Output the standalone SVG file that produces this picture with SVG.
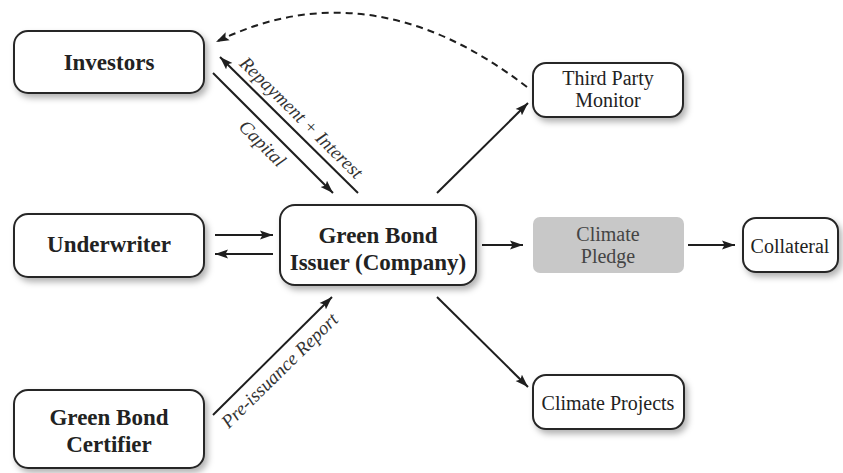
<svg xmlns="http://www.w3.org/2000/svg" width="843" height="473" viewBox="0 0 843 473">
<defs>
<style>
.box{fill:#fff;stroke:#262626;stroke-width:2;filter:url(#sh)}
.pledge{fill:#c8c8c8;stroke:none}
.bt{font-family:"Liberation Serif","Times New Roman",serif;font-weight:bold;font-size:23px;fill:#222;text-anchor:middle}
.rt{font-family:"Liberation Serif","Times New Roman",serif;font-size:20px;fill:#222;text-anchor:middle}
.gt{font-family:"Liberation Serif","Times New Roman",serif;font-size:20px;fill:#444;text-anchor:middle}
.lbl{font-family:"Liberation Serif","Times New Roman",serif;font-style:italic;font-size:19px;fill:#333;text-anchor:middle}
.ln{stroke:#1e1e1e;stroke-width:2;fill:none;marker-end:url(#ah)}
.dash{stroke:#1e1e1e;stroke-width:2;fill:none;stroke-dasharray:7 5;marker-end:url(#ah)}
</style>
<filter id="sh" x="-10%" y="-20%" width="125%" height="150%">
<feDropShadow dx="3" dy="4" stdDeviation="3" flood-color="#000" flood-opacity="0.3"/>
</filter>
<marker id="ah" markerUnits="userSpaceOnUse" markerWidth="14" markerHeight="10" refX="13" refY="5" orient="auto">
<path d="M0,0.5 L13,5 L0,9.5 L2.5,5 Z" fill="#1e1e1e"/>
</marker>
</defs>
<g id="connectors">
<line class="ln" x1="213" y1="73" x2="333" y2="193"/>
<line class="ln" x1="358" y1="193" x2="220" y2="57"/>
<line class="ln" x1="215" y1="235" x2="273" y2="235"/>
<line class="ln" x1="273" y1="254" x2="215" y2="254"/>
<line class="ln" x1="482" y1="245" x2="523" y2="245"/>
<line class="ln" x1="688" y1="245" x2="735" y2="245"/>
<line class="ln" x1="437" y1="193" x2="528" y2="103"/>
<line class="ln" x1="437" y1="297" x2="528" y2="387"/>
<line class="ln" x1="213" y1="415" x2="332" y2="297"/>
<path class="dash" d="M527,87 Q370,-34 216,42"/>
<text class="lbl" transform="translate(297,122) rotate(44.6)">Repayment + Interest</text>
<text class="lbl" transform="translate(258,148) rotate(45)">Capital</text>
<text class="lbl" transform="translate(284,375) rotate(-44.5)">Pre-issuance Report</text>
</g>
<g id="investors">
<rect class="box" x="14" y="31" width="190" height="62" rx="14"/>
<text class="bt" x="109" y="70">Investors</text>
</g>
<g id="underwriter">
<rect class="box" x="14" y="214" width="190" height="63" rx="14"/>
<text class="bt" x="109" y="252">Underwriter</text>
</g>
<g id="certifier">
<rect class="box" x="14" y="390" width="190" height="78" rx="14"/>
<text class="bt" x="109" y="425">Green Bond</text>
<text class="bt" x="109" y="452">Certifier</text>
</g>
<g id="issuer">
<rect class="box" x="280" y="205" width="196" height="80" rx="15"/>
<text class="bt" x="378" y="243">Green Bond</text>
<text class="bt" x="378" y="270">Issuer (Company)</text>
</g>
<g id="monitor">
<rect class="box" x="533" y="63" width="150" height="54" rx="13"/>
<text class="rt" x="608" y="85">Third Party</text>
<text class="rt" x="608" y="107">Monitor</text>
</g>
<g id="pledge">
<rect class="pledge" x="533" y="217" width="151" height="56" rx="7"/>
<text class="gt" x="608" y="241">Climate</text>
<text class="gt" x="608" y="263">Pledge</text>
</g>
<g id="collateral">
<rect class="box" x="743" y="218" width="95" height="54" rx="13"/>
<text class="rt" x="790" y="253">Collateral</text>
</g>
<g id="projects">
<rect class="box" x="533" y="375" width="151" height="54" rx="13"/>
<text class="rt" x="608" y="410">Climate Projects</text>
</g>
</svg>
